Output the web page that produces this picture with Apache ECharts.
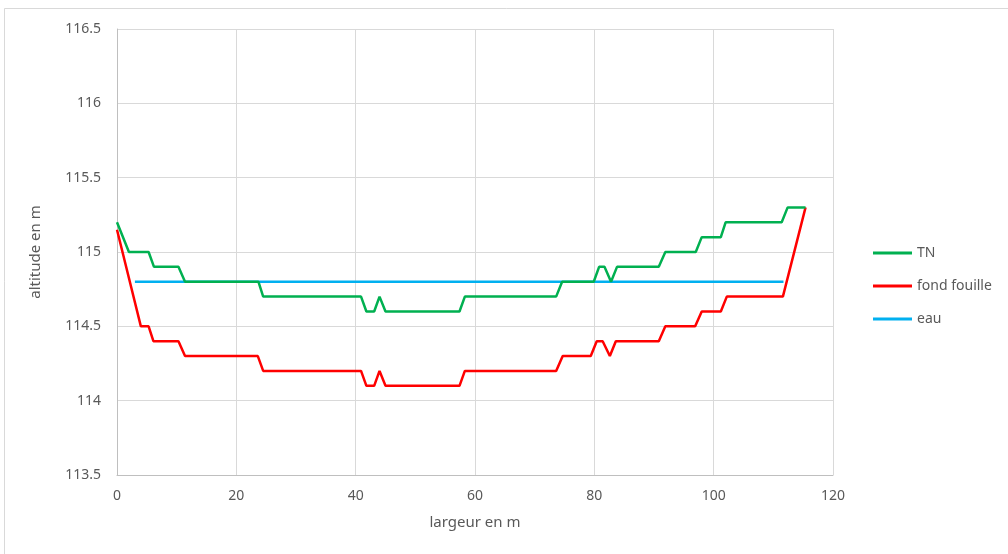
<!DOCTYPE html>
<html>
<head>
<meta charset="utf-8">
<script src="https://cdn.jsdelivr.net/npm/echarts@6/dist/echarts.min.js"></script>
<style>
  html, body { margin: 0; padding: 0; background: #ffffff; }
  #chart { width: 1008px; height: 554px; }
</style>
</head>
<body>
<div id="chart"></div>
<script>
// Cross-section profile: ground level (TN), excavation bottom and water level
const tnX = [0, 2, 5.3, 6.2, 10.3, 11.4, 23.7, 24.5, 40.9, 41.8, 43.1, 44.0, 45.0, 57.4, 58.3, 73.6, 74.6, 79.9, 80.8, 81.7, 82.8, 83.8, 90.8, 91.9, 97.0, 98.0, 101.2, 102.0, 111.4, 112.4, 115.4];
const tnY = [115.2, 115.0, 115.0, 114.9, 114.9, 114.8, 114.8, 114.7, 114.7, 114.6, 114.6, 114.7, 114.6, 114.6, 114.7, 114.7, 114.8, 114.8, 114.9, 114.9, 114.8, 114.9, 114.9, 115.0, 115.0, 115.1, 115.1, 115.2, 115.2, 115.3, 115.3];

const fondX = [0, 4.0, 5.3, 6.1, 10.3, 11.4, 23.6, 24.5, 40.9, 41.8, 43.1, 44.0, 45.0, 57.4, 58.3, 73.6, 74.7, 79.4, 80.4, 81.4, 82.6, 83.6, 90.8, 91.9, 96.9, 98.0, 101.2, 102.2, 111.6, 115.4];
const fondY = [115.15, 114.5, 114.5, 114.4, 114.4, 114.3, 114.3, 114.2, 114.2, 114.1, 114.1, 114.2, 114.1, 114.1, 114.2, 114.2, 114.3, 114.3, 114.4, 114.4, 114.3, 114.4, 114.4, 114.5, 114.5, 114.6, 114.6, 114.7, 114.7, 115.3];

const eauX = [3, 111.7];
const eauY = [114.8, 114.8];

const seriesNames = ['TN', 'fond fouille', 'eau'];
const seriesColors = ['#00B050', '#FF0000', '#00B0F0'];

const xTitle = 'largeur en m';
const yTitle = 'altitude en m';

function pairs(xs, ys) {
  return xs.map((x, i) => [x, ys[i]]);
}

const textColor = '#595959';
const fontFamily = "'Noto Sans', 'Open Sans', sans-serif";

const chart = echarts.init(document.getElementById('chart'), null, { renderer: 'canvas' });

chart.setOption({
  animation: false,
  backgroundColor: '#ffffff',
  graphic: [{
    type: 'rect',
    shape: { x: 4.5, y: 8.5, width: 1010, height: 560 },
    style: { fill: 'none', stroke: '#d9d9d9', lineWidth: 1 },
    silent: true
  }],
  grid: { left: 117, right: 175, top: 29, bottom: 79, containLabel: false },
  legend: {
    orient: 'vertical',
    left: 873,
    top: 245,
    padding: 0,
    icon: 'rect',
    itemWidth: 39,
    itemHeight: 3,
    itemGap: 17,
    textStyle: { color: textColor, fontSize: 14, fontFamily: fontFamily, lineHeight: 16 },
    data: seriesNames
  },
  xAxis: {
    type: 'value',
    min: 0, max: 120, interval: 20,
    name: xTitle,
    nameLocation: 'middle',
    nameGap: 40,
    nameTextStyle: { color: textColor, fontSize: 15, fontFamily: fontFamily },
    axisLine: { show: true, lineStyle: { color: '#bfbfbf', width: 1 } },
    axisTick: { show: false },
    axisLabel: { color: textColor, fontSize: 14, fontFamily: fontFamily, margin: 14 },
    splitLine: { show: true, lineStyle: { color: '#d9d9d9', width: 1 } }
  },
  yAxis: {
    type: 'value',
    min: 113.5, max: 116.5, interval: 0.5,
    name: yTitle,
    nameLocation: 'middle',
    nameGap: 74,
    nameRotate: 90,
    nameTextStyle: { color: textColor, fontSize: 15, fontFamily: fontFamily },
    axisLine: { show: true, lineStyle: { color: '#bfbfbf', width: 1 } },
    axisTick: { show: false },
    axisLabel: { color: textColor, fontSize: 14, fontFamily: fontFamily, margin: 16 },
    splitLine: { show: true, lineStyle: { color: '#d9d9d9', width: 1 } }
  },
  series: [
    { name: seriesNames[0], data: pairs(tnX, tnY) },
    { name: seriesNames[1], data: pairs(fondX, fondY) },
    { name: seriesNames[2], data: pairs(eauX, eauY) }
  ].map((s, i) => Object.assign({
    type: 'line',
    symbol: 'none',
    color: seriesColors[i],
    lineStyle: { color: seriesColors[i], width: 2.5 },
    z: 3 - i
  }, s))
});
</script>
</body>
</html>
